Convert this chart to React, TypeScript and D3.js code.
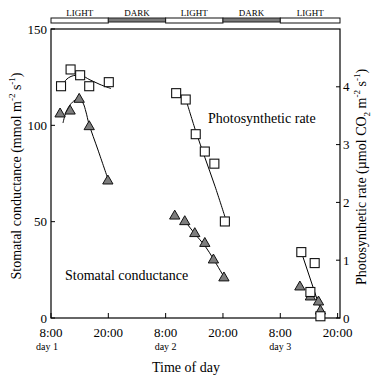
import * as d3 from "d3"

const W = 373
const H = 376
const left = 51
const right = 340
const top = 29
const bottom = 318

// light / dark periods, hours after 8:00 on day 1
const periodLabels = ["LIGHT", "DARK", "LIGHT", "DARK", "LIGHT"]
const periodStart = [0, 12, 24, 36, 48]
const periodEnd = [12, 24, 36, 48, 60.5]

const xTicks = [0, 12, 24, 36, 48, 60]
const xTickLabels = ["8:00", "20:00", "8:00", "20:00", "8:00", "20:00"]
const dayTicks = [0, 24, 48]
const dayLabels = ["day 1", "day 2", "day 3"]
const condTicks = [0, 50, 100, 150]
const photoTicks = [0, 1, 2, 3, 4]

// photosynthetic rate (squares, right axis)
const photoHours = [2.1, 4.1, 6.1, 8.0, 12.1, 26.2, 28.2, 30.3, 32.2, 34.2, 36.4, 52.4, 54.3, 55.2, 56.4]
const photoValues = [4.01, 4.3, 4.2, 4.01, 4.08, 3.89, 3.78, 3.18, 2.88, 2.67, 1.67, 1.14, 0.45, 0.95, 0.03]

// stomatal conductance (triangles, left axis)
const condHours = [1.9, 4.0, 5.9, 8.0, 11.9, 25.9, 28.0, 30.1, 32.2, 34.0, 36.2, 52.1, 54.3, 56.0, 56.4]
const condValues = [105.9, 107.4, 113.5, 99.3, 71.1, 52.9, 50.0, 43.8, 38.7, 30.1, 20.8, 16.1, 10.9, 8.3, 3.6]

// fitted curves
const photoFit1Hours = [2.3, 3.14, 4.19, 5.23, 6.28, 8.16, 10.26, 12.56]
const photoFit1Values = [4.01, 4.12, 4.18, 4.2, 4.2, 4.12, 4.04, 3.97]
const photoFit2Hours = [28.47, 30.35, 32.24, 34.33, 36.42]
const photoFit2Values = [3.72, 3.22, 2.77, 2.28, 1.75]
const photoFit3Hours = [52.75, 56.31]
const photoFit3Values = [1.055, 0.173]
const condFit1Hours = [2.51, 3.14, 3.98, 5.02, 5.86, 6.7, 7.33, 7.95, 9.84, 11.93]
const condFit1Values = [101.2, 106.9, 110.6, 113.1, 113.9, 111.6, 106.9, 100.7, 87.2, 72.1]
const condFit2Hours = [28.05, 30.14, 32.24, 34.12, 36.22]
const condFit2Values = [50.3, 43.6, 37.4, 30.1, 21.3]

const font = "'Liberation Serif', 'Times New Roman', serif"

export default function App() {
  const x = d3.scaleLinear().domain([0, 60.5]).range([left, right])
  const yCond = d3.scaleLinear().domain([0, 150]).range([bottom, top])
  const yPhoto = d3.scaleLinear().domain([0, 5]).range([bottom, top])

  const photoLine = (hs: number[], vs: number[]) =>
    d3.line<number>().x((h) => x(h)).y((_, i) => yPhoto(vs[i])).curve(d3.curveCatmullRom)(hs) || ""
  const condLine = (hs: number[], vs: number[]) =>
    d3.line<number>().x((h) => x(h)).y((_, i) => yCond(vs[i])).curve(d3.curveCatmullRom)(hs) || ""

  const tri = d3.symbol().type(d3.symbolTriangle).size(46)() || ""
  const sq = 9

  return (
    <svg width={W} height={H} style={{ position: "absolute", left: 0, top: 0, background: "#fff" }} fontFamily={font}>
      {/* light / dark bar */}
      {periodLabels.map((lab, i) => {
        const dark = lab === "DARK"
        return (
          <g key={"p" + i}>
            <rect
              x={x(periodStart[i])}
              y={18}
              width={x(periodEnd[i]) - x(periodStart[i])}
              height={dark ? 4 : 5}
              fill={dark ? "#7a7a7a" : "#fff"}
              stroke={dark ? "#222" : "#111"}
              strokeWidth={1}
            />
            <text x={(x(periodStart[i]) + x(periodEnd[i])) / 2} y={16} fontSize={9} textAnchor="middle">
              {lab}
            </text>
          </g>
        )
      })}

      {/* frame */}
      <rect x={left} y={top} width={right - left} height={bottom - top} fill="none" stroke="#000" strokeWidth={1.2} />

      {/* left axis ticks */}
      {condTicks.map((t) => (
        <g key={"c" + t}>
          <line x1={left} x2={left + 4} y1={yCond(t)} y2={yCond(t)} stroke="#000" />
          <text x={left - 4} y={yCond(t) + 4.5} fontSize={13} textAnchor="end">
            {t}
          </text>
        </g>
      ))}

      {/* right axis ticks */}
      {photoTicks.map((t) => (
        <g key={"r" + t}>
          <line x1={right - 4} x2={right} y1={yPhoto(t)} y2={yPhoto(t)} stroke="#000" />
          <text x={right + 3} y={yPhoto(t) + 4.5} fontSize={13}>
            {t}
          </text>
        </g>
      ))}

      {/* x axis ticks */}
      {xTicks.map((t, i) => (
        <g key={"x" + i}>
          <line x1={x(t)} x2={x(t)} y1={bottom} y2={bottom - 5} stroke="#000" />
          <text x={x(t)} y={337} fontSize={13} textAnchor="middle">
            {xTickLabels[i]}
          </text>
        </g>
      ))}
      {dayTicks.map((t, i) => (
        <text key={"d" + i} x={x(t) - (i === 0 ? 4 : 0)} y={350} fontSize={10} textAnchor="middle">
          {dayLabels[i]}
        </text>
      ))}
      <text x={186} y={372} fontSize={14} textAnchor="middle">
        Time of day
      </text>

      {/* axis titles */}
      <text transform="translate(21,176) rotate(-90)" fontSize={14} textAnchor="middle">
        Stomatal conductance (mmol m
        <tspan fontSize={9} dy={-6}>-2</tspan>
        <tspan dy={6}> s</tspan>
        <tspan fontSize={9} dy={-6}>-1</tspan>
        <tspan dy={6}>)</tspan>
      </text>
      <text transform="translate(366,177) rotate(-90)" fontSize={14} textAnchor="middle">
        Photosynthetic rate (µmol CO
        <tspan fontSize={9} dy={4}>2</tspan>
        <tspan dy={-4}> m</tspan>
        <tspan fontSize={9} dy={-6}>-2</tspan>
        <tspan dy={6}> s</tspan>
        <tspan fontSize={9} dy={-6}>-1</tspan>
        <tspan dy={6}>)</tspan>
      </text>

      {/* in-plot labels */}
      <text x={208} y={123} fontSize={14}>
        Photosynthetic rate
      </text>
      <text x={65} y={280} fontSize={14}>
        Stomatal conductance
      </text>

      {/* fitted curves */}
      <g fill="none" stroke="#000" strokeWidth={1}>
        <path d={photoLine(photoFit1Hours, photoFit1Values)} />
        <path d={photoLine(photoFit2Hours, photoFit2Values)} />
        <path d={photoLine(photoFit3Hours, photoFit3Values)} />
        <path d={condLine(condFit1Hours, condFit1Values)} />
        <path d={condLine(condFit2Hours, condFit2Values)} />
      </g>

      {/* conductance markers */}
      {condHours.map((h, i) => (
        <path
          key={"t" + i}
          d={tri}
          transform={`translate(${x(h)},${yCond(condValues[i])})`}
          fill="#7d7d7d"
          stroke="#111"
          strokeWidth={1}
        />
      ))}

      {/* photosynthesis markers */}
      {photoHours.map((h, i) => (
        <rect
          key={"s" + i}
          x={x(h) - sq / 2}
          y={yPhoto(photoValues[i]) - sq / 2}
          width={sq}
          height={sq}
          fill="#fff"
          stroke="#111"
          strokeWidth={1.1}
        />
      ))}
    </svg>
  )
}
